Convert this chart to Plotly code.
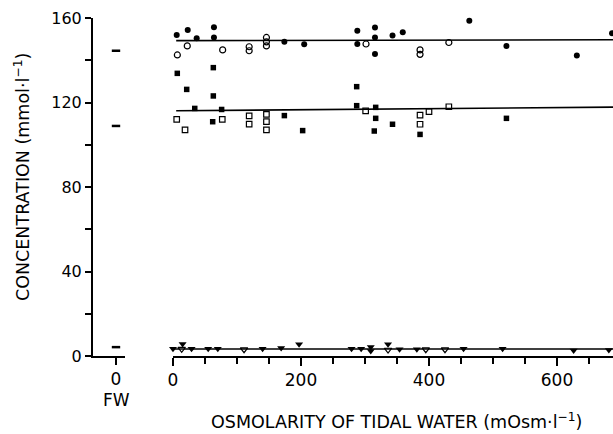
import plotly.graph_objects as go

# ---------------- data ----------------
fw_x = [0, 0, 0]
fw_y = [144.5, 108.9, 4.2]

sodium_filled_x = [5.8, 23, 37, 64, 64, 174, 205, 288, 288, 315.6, 315.6, 315.6, 343, 359, 463, 521, 631, 686]
sodium_filled_y = [152, 154.3, 150.4, 155.6, 150.8, 148.8, 147.6, 154, 147.7, 155.5, 150.8, 143, 151.7, 153.2, 158.7, 146.8, 142.2, 152.8]

sodium_open_x = [6.8, 22.3, 77.6, 119, 119, 146, 146, 146, 301.6, 386, 386, 399, 431]
sodium_open_y = [142.5, 146.8, 144.9, 146.4, 144.5, 150.8, 148.7, 146.8, 147.7, 144.9, 142.8, 163.8, 148.4]

chloride_filled_x = [6.7, 21.4, 34, 63, 63, 62, 76, 174, 202.6, 287, 287, 316.7, 316.7, 314.5, 343, 386, 521]
chloride_filled_y = [133.8, 126.2, 117.2, 136.5, 123.1, 110.9, 116.7, 113.8, 106.7, 127.5, 118.5, 117.7, 112.5, 106.5, 109.7, 104.9, 112.5]

chloride_open_x = [5.8, 18.8, 77, 119, 119, 146, 146, 146, 301, 386, 386, 400, 431]
chloride_open_y = [112, 107, 112, 113.7, 109.8, 114.4, 110.9, 107, 116, 114, 109.7, 115.7, 118]

potassium_filled_x = [0, 15, 29, 55, 70, 140, 169, 197, 279, 294, 309, 309, 336, 354, 381, 454, 515, 626, 681]
potassium_filled_y = [3.4, 5.7, 3.4, 3.4, 3.4, 3.4, 3.8, 5.6, 3.4, 3.4, 4.3, 2.4, 5.6, 3.2, 3.2, 3.4, 3.4, 2.6, 2.8]

potassium_open_x = [13.6, 111, 336, 395, 425]
potassium_open_y = [3.3, 3.1, 2.9, 3.1, 3.1]

fit_x = [5, 690]
sodium_fit = [149.3, 149.7]
chloride_fit = [116.1, 117.8]
potassium_fit_x = [0, 690]
potassium_fit = [3.3, 3.3]

y_ticks = [0, 40, 80, 120, 160]
x_ticks = [0, 200, 400, 600]

FONT = "DejaVu Sans"
BLACK = "black"

fig = go.Figure()

def line_trace(x, y):
    fig.add_trace(go.Scatter(x=x, y=y, mode="lines", xaxis="x2", yaxis="y",
                             line=dict(color=BLACK, width=1.6), hoverinfo="skip"))

line_trace(fit_x, sodium_fit)
line_trace(fit_x, chloride_fit)
line_trace(potassium_fit_x, potassium_fit)

def pts(x, y, symbol, size, lw=1.2):
    fig.add_trace(go.Scatter(x=x, y=y, mode="markers", xaxis="x2", yaxis="y", cliponaxis=False,
                             marker=dict(symbol=symbol, size=size, color=BLACK,
                                         line=dict(color=BLACK, width=lw))))

pts(sodium_filled_x, sodium_filled_y, "circle", 6, 0)
pts(sodium_open_x, sodium_open_y, "circle-open", 6)
pts(chloride_filled_x, chloride_filled_y, "square", 5.5, 0)
pts(chloride_open_x, chloride_open_y, "square-open", 5.5)
pts(potassium_filled_x, potassium_filled_y, "triangle-down", 7, 0)
pts(potassium_open_x, potassium_open_y, "triangle-down-open", 6.5)

# freshwater values (short dashes)
fig.add_trace(go.Scatter(x=fw_x, y=fw_y, mode="markers", xaxis="x", yaxis="y", cliponaxis=False,
                         marker=dict(symbol="line-ew", size=6, color=BLACK,
                                     line=dict(color=BLACK, width=2.5))))

L, R, T, B = 93, 0, 18, 78
W, H = 613, 434
pw = W - L - R
ph = H - T - B

fig.update_layout(
    width=W, height=H,
    margin=dict(l=L, r=R, t=T, b=B, pad=0),
    paper_bgcolor="white", plot_bgcolor="white",
    showlegend=False,
    font=dict(family=FONT, color=BLACK),
    xaxis=dict(domain=[0, 32 / pw], range=[-2.3, 0.9], tickmode="array", tickvals=[0], ticktext=["0"],
               ticks="outside", ticklen=7, tickwidth=1.5, tickcolor=BLACK,
               showline=True, linewidth=1.5, linecolor=BLACK, showgrid=False, zeroline=False,
               anchor="y", tickfont=dict(size=17, family=FONT, color=BLACK)),
    xaxis2=dict(domain=[80 / pw, 1], range=[0, 687.5], tickmode="array", tickvals=x_ticks,
                ticks="outside", ticklen=8, tickwidth=1.5, tickcolor=BLACK,
                minor=dict(dtick=50, tick0=0, ticks="outside", ticklen=6, tickwidth=1.5, tickcolor=BLACK, showgrid=False),
                showline=True, linewidth=1.5, linecolor=BLACK, showgrid=False, zeroline=False,
                anchor="y", tickfont=dict(size=17, family=FONT, color=BLACK)),
    yaxis=dict(range=[0, 160], tickmode="array", tickvals=y_ticks,
               ticks="outside", ticklen=6, tickwidth=1.5, tickcolor=BLACK,
               minor=dict(dtick=20, tick0=0, ticks="outside", ticklen=6, tickwidth=1.5, tickcolor=BLACK, showgrid=False),
               showline=True, linewidth=2, linecolor=BLACK, showgrid=False, zeroline=False,
               anchor="x", tickfont=dict(size=16, family=FONT, color=BLACK)),
    annotations=[
        dict(text="FW", xref="x", x=0, yref="paper", y=(356 - 400) / ph, xanchor="center", yanchor="middle",
             showarrow=False, font=dict(size=17, family=FONT, color=BLACK)),
        dict(text="OSMOLARITY OF TIDAL WATER (mOsm·l<sup>−1</sup>)", xref="paper", x=(396.5 - L) / pw,
             yref="paper", y=(356 - 421) / ph, xanchor="center", yanchor="middle",
             showarrow=False, font=dict(size=17.5, family=FONT, color=BLACK)),
        dict(text="CONCENTRATION (mmol·l<sup>−1</sup>)", xref="paper", x=(21.5 - L) / pw,
             yref="paper", y=(356 - 177.5) / ph, xanchor="center", yanchor="middle", textangle=-90,
             showarrow=False, font=dict(size=17.5, family=FONT, color=BLACK)),
    ],
)

fig.write_html("out.html")
